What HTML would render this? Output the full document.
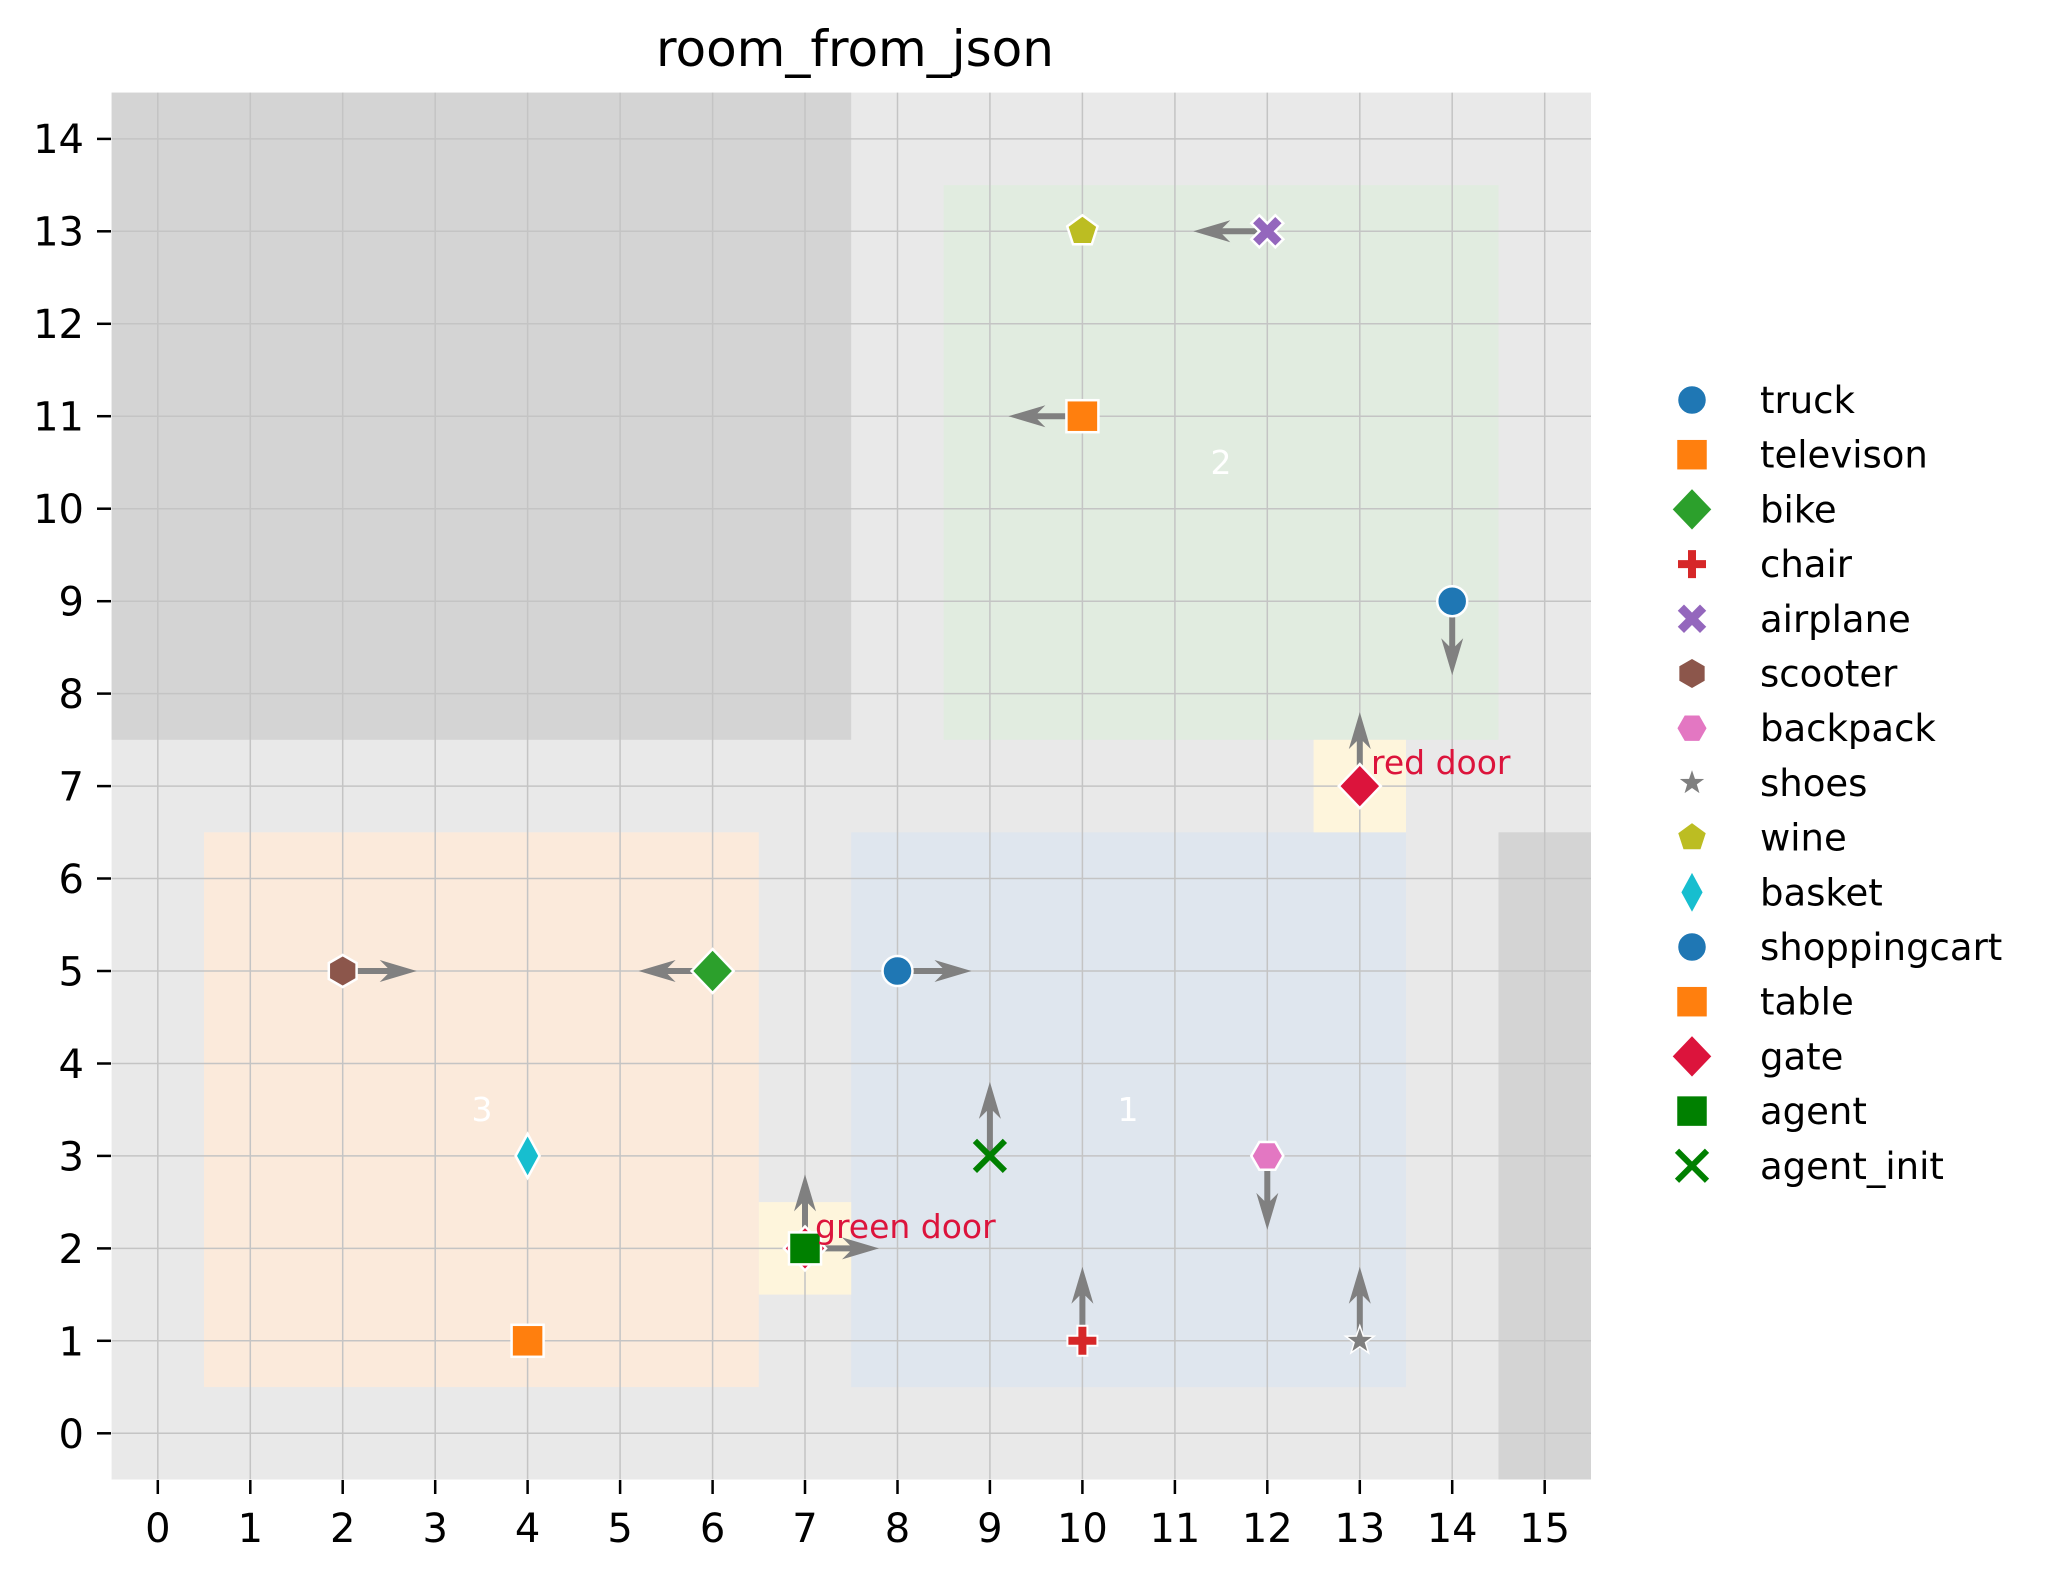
<!DOCTYPE html>
<html><head><meta charset="utf-8"><style>
html,body{margin:0;padding:0;background:#fff;}
svg{display:block;font-family:"DejaVu Sans","Liberation Sans",sans-serif;}
</style></head><body>
<svg width="2049" height="1580" viewBox="0 0 2049 1580" xmlns="http://www.w3.org/2000/svg">
<defs>
<polygon id="arr" points="0,-3 45,-3 37,-11 74,0 37,11 45,3 0,3" fill="#808080"/>
<circle id="m_circle" r="15" fill="#1f77b4" stroke="#fff" stroke-width="2.5"/>
<rect id="m_sq_o" x="-16" y="-16" width="32" height="32" fill="#ff7f0e" stroke="#fff" stroke-width="2.5"/>
<rect id="m_sq_g" x="-16" y="-16" width="32" height="32" fill="#008000" stroke="#fff" stroke-width="2.5"/>
<polygon id="m_dia_g" points="0,-22 21,0 0,22 -21,0" fill="#2ca02c" stroke="#fff" stroke-width="2.5"/>
<polygon id="m_dia_r" points="0,-22 21,0 0,22 -21,0" fill="#dc143c" stroke="#fff" stroke-width="2.5"/>
<polygon id="m_thin" points="0,-22 12,0 0,22 -12,0" fill="#17becf" stroke="#fff" stroke-width="2.5"/>
<path id="m_plus" d="M-5,-15H5V-5H15V5H5V15H-5V5H-15V-5H-5Z" fill="#d62728" stroke="#fff" stroke-width="2"/>
<path id="m_xf" d="M-8,-16L0,-8L8,-16L16,-8L8,0L16,8L8,16L0,8L-8,16L-16,8L-8,0L-16,-8Z" fill="#9467bd" stroke="#fff" stroke-width="2.5"/>
<polygon id="m_hex_b" points="0,-16 13.9,-8 13.9,8 0,16 -13.9,8 -13.9,-8" fill="#8c564b" stroke="#fff" stroke-width="2.5"/>
<polygon id="m_hex_p" points="-16,0 -8,-13.9 8,-13.9 16,0 8,13.9 -8,13.9" fill="#e377c2" stroke="#fff" stroke-width="2.5"/>
<polygon id="m_pent" points="0,-16 15.2,-4.9 9.4,12.9 -9.4,12.9 -15.2,-4.9" fill="#bcbd22" stroke="#fff" stroke-width="2.5"/>
<polygon id="m_star" points="0,-15 3.5,-4.8 14.3,-4.6 5.7,1.8 8.8,12.1 0,6 -8.8,12.1 -5.7,1.8 -14.3,-4.6 -3.5,-4.8" fill="#7f7f7f" stroke="#fff" stroke-width="1.5"/>
<g id="m_xg"><path d="M-15,-15L15,15M15,-15L-15,15" stroke="#008000" stroke-width="6"/></g>
</defs>

<text x="855" y="66" font-size="50" text-anchor="middle" fill="#000">room_from_json</text>

<rect x="111.6" y="92.6" width="1479.4" height="1386.9" fill="#e9e9e9"/>
<rect x="111.6" y="92.6" width="739.6" height="647.2" fill="#d4d4d4"/>
<rect x="1498.5" y="832.3" width="92.5" height="647.2" fill="#d4d4d4"/>
<rect x="943.7" y="185.1" width="554.8" height="554.7" fill="#e1ece0"/>
<rect x="204" y="832.3" width="554.8" height="554.8" fill="#fbeadb"/>
<rect x="851.2" y="832.3" width="554.8" height="554.8" fill="#dfe6ee"/>
<rect x="758.8" y="1202.1" width="92.4" height="92.5" fill="#fef5dc"/>
<rect x="1313.6" y="739.8" width="92.4" height="92.5" fill="#fef5dc"/>

<g stroke="#c4c4c4" stroke-width="1.5">
<line x1="157.8" y1="92.6" x2="157.8" y2="1479.5"/><line x1="250.3" y1="92.6" x2="250.3" y2="1479.5"/>
<line x1="342.7" y1="92.6" x2="342.7" y2="1479.5"/><line x1="435.2" y1="92.6" x2="435.2" y2="1479.5"/>
<line x1="527.6" y1="92.6" x2="527.6" y2="1479.5"/><line x1="620.1" y1="92.6" x2="620.1" y2="1479.5"/>
<line x1="712.6" y1="92.6" x2="712.6" y2="1479.5"/><line x1="805" y1="92.6" x2="805" y2="1479.5"/>
<line x1="897.5" y1="92.6" x2="897.5" y2="1479.5"/><line x1="989.9" y1="92.6" x2="989.9" y2="1479.5"/>
<line x1="1082.4" y1="92.6" x2="1082.4" y2="1479.5"/><line x1="1174.9" y1="92.6" x2="1174.9" y2="1479.5"/>
<line x1="1267.3" y1="92.6" x2="1267.3" y2="1479.5"/><line x1="1359.8" y1="92.6" x2="1359.8" y2="1479.5"/>
<line x1="1452.2" y1="92.6" x2="1452.2" y2="1479.5"/><line x1="1544.7" y1="92.6" x2="1544.7" y2="1479.5"/>
<line x1="111.6" y1="1433.3" x2="1591" y2="1433.3"/><line x1="111.6" y1="1340.8" x2="1591" y2="1340.8"/>
<line x1="111.6" y1="1248.4" x2="1591" y2="1248.4"/><line x1="111.6" y1="1155.9" x2="1591" y2="1155.9"/>
<line x1="111.6" y1="1063.5" x2="1591" y2="1063.5"/><line x1="111.6" y1="971" x2="1591" y2="971"/>
<line x1="111.6" y1="878.5" x2="1591" y2="878.5"/><line x1="111.6" y1="786.1" x2="1591" y2="786.1"/>
<line x1="111.6" y1="693.6" x2="1591" y2="693.6"/><line x1="111.6" y1="601.2" x2="1591" y2="601.2"/>
<line x1="111.6" y1="508.7" x2="1591" y2="508.7"/><line x1="111.6" y1="416.2" x2="1591" y2="416.2"/>
<line x1="111.6" y1="323.8" x2="1591" y2="323.8"/><line x1="111.6" y1="231.3" x2="1591" y2="231.3"/>
<line x1="111.6" y1="138.9" x2="1591" y2="138.9"/>
</g>

<g stroke="#000" stroke-width="2.5">
<line x1="157.8" y1="1480" x2="157.8" y2="1494"/><line x1="250.3" y1="1480" x2="250.3" y2="1494"/>
<line x1="342.7" y1="1480" x2="342.7" y2="1494"/><line x1="435.2" y1="1480" x2="435.2" y2="1494"/>
<line x1="527.6" y1="1480" x2="527.6" y2="1494"/><line x1="620.1" y1="1480" x2="620.1" y2="1494"/>
<line x1="712.6" y1="1480" x2="712.6" y2="1494"/><line x1="805" y1="1480" x2="805" y2="1494"/>
<line x1="897.5" y1="1480" x2="897.5" y2="1494"/><line x1="989.9" y1="1480" x2="989.9" y2="1494"/>
<line x1="1082.4" y1="1480" x2="1082.4" y2="1494"/><line x1="1174.9" y1="1480" x2="1174.9" y2="1494"/>
<line x1="1267.3" y1="1480" x2="1267.3" y2="1494"/><line x1="1359.8" y1="1480" x2="1359.8" y2="1494"/>
<line x1="1452.2" y1="1480" x2="1452.2" y2="1494"/><line x1="1544.7" y1="1480" x2="1544.7" y2="1494"/>
<line x1="97" y1="1433.3" x2="111" y2="1433.3"/><line x1="97" y1="1340.8" x2="111" y2="1340.8"/>
<line x1="97" y1="1248.4" x2="111" y2="1248.4"/><line x1="97" y1="1155.9" x2="111" y2="1155.9"/>
<line x1="97" y1="1063.5" x2="111" y2="1063.5"/><line x1="97" y1="971" x2="111" y2="971"/>
<line x1="97" y1="878.5" x2="111" y2="878.5"/><line x1="97" y1="786.1" x2="111" y2="786.1"/>
<line x1="97" y1="693.6" x2="111" y2="693.6"/><line x1="97" y1="601.2" x2="111" y2="601.2"/>
<line x1="97" y1="508.7" x2="111" y2="508.7"/><line x1="97" y1="416.2" x2="111" y2="416.2"/>
<line x1="97" y1="323.8" x2="111" y2="323.8"/><line x1="97" y1="231.3" x2="111" y2="231.3"/>
<line x1="97" y1="138.9" x2="111" y2="138.9"/>
</g>
<g font-size="40" fill="#000" text-anchor="middle">
<text x="157.8" y="1542">0</text><text x="250.3" y="1542">1</text><text x="342.7" y="1542">2</text>
<text x="435.2" y="1542">3</text><text x="527.6" y="1542">4</text><text x="620.1" y="1542">5</text>
<text x="712.6" y="1542">6</text><text x="805" y="1542">7</text><text x="897.5" y="1542">8</text>
<text x="989.9" y="1542">9</text><text x="1082.4" y="1542">10</text><text x="1174.9" y="1542">11</text>
<text x="1267.3" y="1542">12</text><text x="1359.8" y="1542">13</text><text x="1452.2" y="1542">14</text>
<text x="1544.7" y="1542">15</text>
</g>
<g font-size="40" fill="#000" text-anchor="end">
<text x="84" y="1448">0</text><text x="84" y="1355.5">1</text><text x="84" y="1263">2</text>
<text x="84" y="1170.5">3</text><text x="84" y="1078">4</text><text x="84" y="985.5">5</text>
<text x="84" y="893">6</text><text x="84" y="800.5">7</text><text x="84" y="708">8</text>
<text x="84" y="615.5">9</text><text x="84" y="523">10</text><text x="84" y="430.5">11</text>
<text x="84" y="338">12</text><text x="84" y="245.5">13</text><text x="84" y="153">14</text>
</g>

<g font-size="33" fill="#fff" text-anchor="middle">
<text x="1221" y="474">2</text>
<text x="1128" y="1121">1</text>
<text x="482" y="1121">3</text>
</g>

<use href="#arr" transform="translate(1267.3,231.3) rotate(180)"/>
<use href="#arr" transform="translate(1082.4,416.2) rotate(180)"/>
<use href="#arr" transform="translate(1452.2,601.2) rotate(90)"/>
<use href="#arr" transform="translate(1359.8,786.1) rotate(-90)"/>
<use href="#arr" transform="translate(342.7,971)"/>
<use href="#arr" transform="translate(712.6,971) rotate(180)"/>
<use href="#arr" transform="translate(897.5,971)"/>
<use href="#arr" transform="translate(989.9,1155.9) rotate(-90)"/>
<use href="#arr" transform="translate(1267.3,1155.9) rotate(90)"/>
<use href="#arr" transform="translate(805,1248.4) rotate(-90)"/>
<use href="#arr" transform="translate(805,1248.4)"/>
<use href="#arr" transform="translate(1082.4,1340.8) rotate(-90)"/>
<use href="#arr" transform="translate(1359.8,1340.8) rotate(-90)"/>

<use href="#m_xf" x="1267.3" y="231.3"/>
<use href="#m_pent" x="1082.4" y="231.3"/>
<use href="#m_sq_o" x="1082.4" y="416.2"/>
<use href="#m_circle" x="1452.2" y="601.2"/>
<use href="#m_dia_r" x="1359.8" y="786.1"/>
<use href="#m_hex_b" x="342.7" y="971"/>
<use href="#m_dia_g" x="712.6" y="971"/>
<use href="#m_circle" x="897.5" y="971"/>
<use href="#m_xg" x="989.9" y="1155.9"/>
<use href="#m_hex_p" x="1267.3" y="1155.9"/>
<use href="#m_thin" x="527.6" y="1155.9"/>
<use href="#m_dia_r" x="805" y="1248.4"/>
<use href="#m_sq_g" x="805" y="1248.4"/>
<use href="#m_sq_o" x="527.6" y="1340.8"/>
<use href="#m_plus" x="1082.4" y="1340.8"/>
<use href="#m_star" x="1359.8" y="1340.8"/>

<g font-size="33" fill="#dc143c">
<text x="1371" y="774">red door</text>
<text x="815" y="1238">green door</text>
</g>

<g>
<use href="#m_circle" x="1692" y="400"/>
<use href="#m_sq_o" x="1692" y="454.7"/>
<use href="#m_dia_g" x="1692" y="509.4"/>
<use href="#m_plus" x="1692" y="564.1"/>
<use href="#m_xf" x="1692" y="618.8"/>
<use href="#m_hex_b" x="1692" y="673.5"/>
<use href="#m_hex_p" x="1692" y="728.2"/>
<use href="#m_star" x="1692" y="782.9"/>
<use href="#m_pent" x="1692" y="837.6"/>
<use href="#m_thin" x="1692" y="892.3"/>
<use href="#m_circle" x="1692" y="947"/>
<use href="#m_sq_o" x="1692" y="1001.7"/>
<use href="#m_dia_r" x="1692" y="1056.4"/>
<use href="#m_sq_g" x="1692" y="1111.1"/>
<use href="#m_xg" x="1692" y="1165.8"/>
</g>
<g font-size="37" fill="#000">
<text x="1760" y="413">truck</text>
<text x="1760" y="467.7">televison</text>
<text x="1760" y="522.4">bike</text>
<text x="1760" y="577.1">chair</text>
<text x="1760" y="631.8">airplane</text>
<text x="1760" y="686.5">scooter</text>
<text x="1760" y="741.2">backpack</text>
<text x="1760" y="795.9">shoes</text>
<text x="1760" y="850.6">wine</text>
<text x="1760" y="905.3">basket</text>
<text x="1760" y="960">shoppingcart</text>
<text x="1760" y="1014.7">table</text>
<text x="1760" y="1069.4">gate</text>
<text x="1760" y="1124.1">agent</text>
<text x="1760" y="1178.8">agent_init</text>
</g>
</svg>
</body></html>
